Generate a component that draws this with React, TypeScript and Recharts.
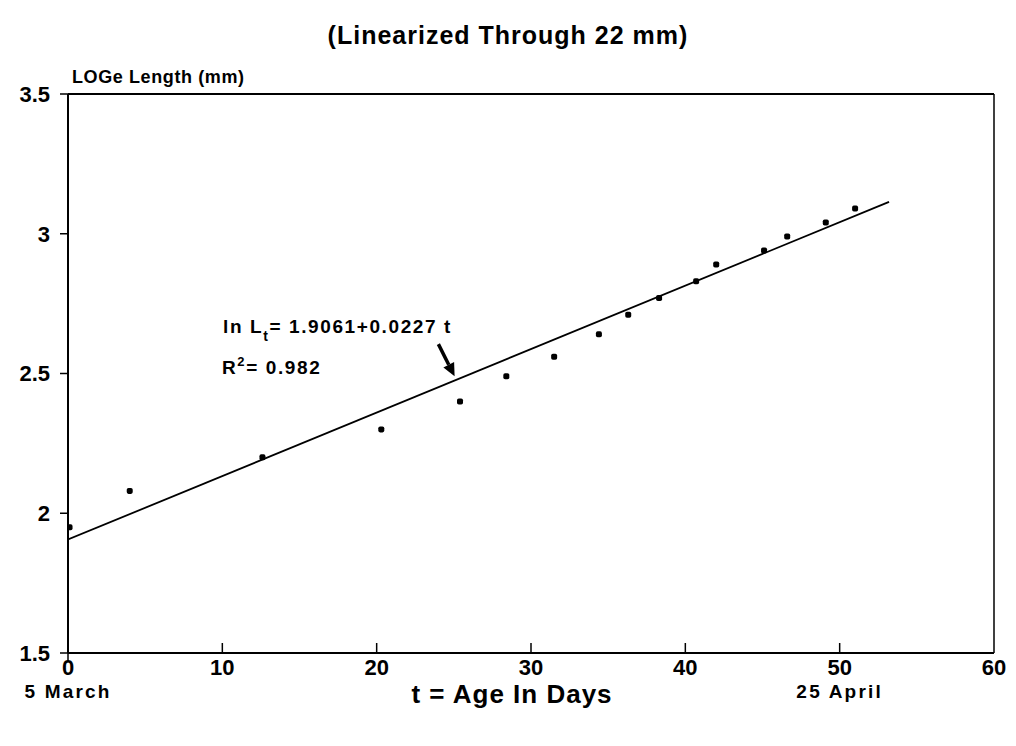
import React from 'react';
import { ComposedChart, Scatter, Line, XAxis, YAxis, ReferenceLine } from 'recharts';

const ageDays = [0.1, 4.0, 12.6, 20.3, 25.4, 28.4, 31.5, 34.4, 36.3, 38.3, 40.7, 42.0, 45.1, 46.6, 49.1, 51.0];
const logLength = [1.95, 2.08, 2.2, 2.3, 2.4, 2.49, 2.56, 2.64, 2.71, 2.77, 2.83, 2.89, 2.94, 2.99, 3.04, 3.09];

const fitT = [0, 53.2];
const fitY = [1.906, 3.114];

const xTicks = [0, 10, 20, 30, 40, 50, 60];
const xSubLabels = ['5 March', '', '', '', '', '25 April', ''];
const yTicks = [1.5, 2, 2.5, 3, 3.5];

const arrowFrom = { t: 24.0, y: 2.605 };
const arrowTo = { t: 25.05, y: 2.49 };

const titleText = '(Linearized Through 22 mm)';
const yLabelText = 'LOGe Length (mm)';
const xLabelText = 't = Age In Days';

const points = ageDays.map((t, i) => ({ t, y: logLength[i] }));
const fitData = fitT.map((t, i) => ({ t, y: fitY[i] }));

const FONT = '"Liberation Sans", Arial, Helvetica, sans-serif';

const XTick = (props: any) => {
  const { x, y, payload } = props;
  const v = payload.value;
  const idx = xTicks.indexOf(v);
  const sub = idx >= 0 ? xSubLabels[idx] : '';
  return (
    <g>
      {v > 0 && v < 60 && <line x1={x} x2={x} y1={y} y2={y - 10} stroke="#000" strokeWidth={1.5} />}
      {v === 0 && <line x1={x} x2={x} y1={y} y2={y + 8} stroke="#000" strokeWidth={1.5} />}
      <text x={x} y={y + 22} textAnchor="middle" fontSize={22} fontWeight="bold" fontFamily={FONT} fill="#000">
        {v}
      </text>
      {sub && (
        <text x={x} y={y + 45} textAnchor="middle" fontSize={19} fontWeight="bold" fontFamily={FONT} fill="#000" letterSpacing={2.2}>
          {sub}
        </text>
      )}
    </g>
  );
};

const YTick = (props: any) => {
  const { x, y, payload } = props;
  return (
    <text x={x} y={y} dy="0.36em" textAnchor="end" fontSize={22} fontWeight="bold" fontFamily={FONT} fill="#000">
      {payload.value}
    </text>
  );
};

const ArrowShape = (props: any) => {
  const { x1, y1, x2, y2 } = props;
  if ([x1, y1, x2, y2].some((v) => v === undefined || isNaN(v))) return null;
  const dx = x2 - x1;
  const dy = y2 - y1;
  const len = Math.sqrt(dx * dx + dy * dy);
  const ux = dx / len;
  const uy = dy / len;
  const hl = 13;
  const hw = 6;
  const bx = x2 - ux * hl;
  const by = y2 - uy * hl;
  const px = -uy;
  const py = ux;
  return (
    <g>
      <line x1={x1} y1={y1} x2={bx} y2={by} stroke="#000" strokeWidth={3.5} />
      <polygon
        points={`${x2},${y2} ${bx + px * hw},${by + py * hw} ${bx - px * hw},${by - py * hw}`}
        fill="#000"
      />
    </g>
  );
};

const Dot = (props: any) => {
  const { cx, cy } = props;
  return <rect x={cx - 3} y={cy - 3} width={6} height={6} rx={1.8} fill="#000" />;
};

export default function App() {
  return (
    <div style={{ position: 'absolute', left: 0, top: 0, width: 1016, height: 746, background: '#fff' }}>
      <ComposedChart
        width={1016}
        height={746}
        margin={{ top: 94, right: 22, bottom: 33, left: 8 }}
        style={{ fontFamily: FONT }}
      >
        <XAxis
          type="number"
          dataKey="t"
          domain={[0, 60]}
          ticks={xTicks}
          height={60}
          tickSize={0}
          tickMargin={0}
          tickLine={false}
          axisLine={{ stroke: '#000', strokeWidth: 2 }}
          tick={<XTick />}
          interval={0}
          allowDataOverflow
        />
        <YAxis
          type="number"
          dataKey="y"
          domain={[1.5, 3.5]}
          ticks={yTicks}
          width={60}
          tickSize={8}
          tickMargin={10}
          tickLine={{ stroke: '#000', strokeWidth: 1.5 }}
          axisLine={{ stroke: '#000', strokeWidth: 2 }}
          tick={<YTick />}
          interval={0}
          allowDataOverflow
        />
        <ReferenceLine y={3.5} stroke="#000" strokeWidth={2} />
        <ReferenceLine x={60} stroke="#000" strokeWidth={1.5} />
        <Line
          data={fitData}
          dataKey="y"
          type="linear"
          stroke="#000"
          strokeWidth={1.8}
          dot={false}
          activeDot={false}
          isAnimationActive={false}
        />
        <Scatter data={points} dataKey="y" fill="#000" shape={<Dot />} isAnimationActive={false} />
        <ReferenceLine
          segment={[
            { x: arrowFrom.t, y: arrowFrom.y },
            { x: arrowTo.t, y: arrowTo.y },
          ]}
          shape={<ArrowShape />}
        />
      </ComposedChart>
      <svg
        width={1016}
        height={746}
        style={{ position: 'absolute', left: 0, top: 0, pointerEvents: 'none' }}
        fontFamily={FONT}
        fontWeight="bold"
        fill="#000"
      >
        <text x={508} y={44} textAnchor="middle" fontSize={25} letterSpacing={1}>
          {titleText}
        </text>
        <text x={72} y={83} fontSize={18} letterSpacing={0.6}>
          {yLabelText}
        </text>
        <text x={512} y={703} textAnchor="middle" fontSize={26} letterSpacing={1}>
          {xLabelText}
        </text>
        <text x={223} y={333} fontSize={19} letterSpacing={1.6}>
          ln L
          <tspan dy={8} fontSize={14}>t</tspan>
          <tspan dy={-8}>= 1.9061+0.0227 t</tspan>
        </text>
        <text x={222} y={374} fontSize={19} letterSpacing={1.6}>
          R
          <tspan dy={-8} fontSize={13}>2</tspan>
          <tspan dy={8}>= 0.982</tspan>
        </text>
      </svg>
    </div>
  );
}
